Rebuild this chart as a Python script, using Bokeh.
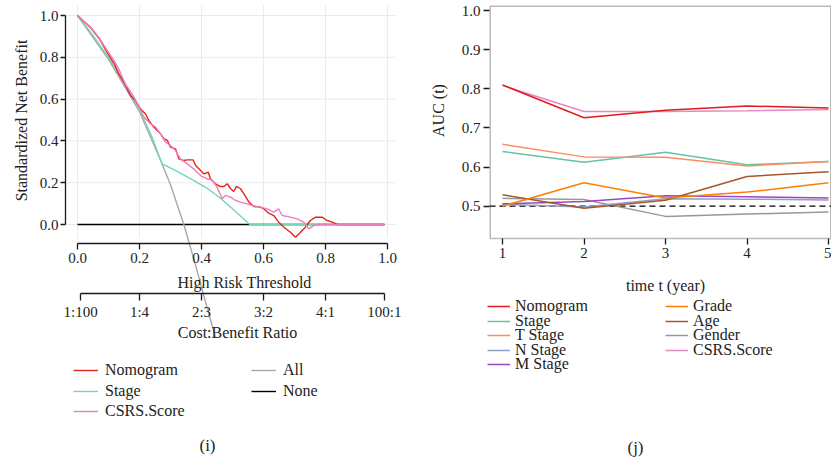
import math
from bokeh.plotting import figure
from bokeh.models import (LinearAxis, FixedTicker, PrintfTickFormatter, Legend,
                          LegendItem, Label, Range1d, BoxAnnotation)
from bokeh.layouts import row
from bokeh.embed import file_html
from bokeh.resources import INLINE

FONT = "'Liberation Serif', 'DejaVu Serif', serif"
TEXT = "#222222"

# ---------------- decision curve (standardized net benefit) ----------------
nomogram_thr = [0.000, 0.041, 0.070, 0.097, 0.120, 0.133, 0.155, 0.171, 0.187, 0.203,
                0.219, 0.230, 0.246, 0.257, 0.268, 0.279, 0.290, 0.300, 0.316, 0.327,
                0.343, 0.354, 0.373, 0.381, 0.397, 0.408, 0.422, 0.429, 0.445, 0.459,
                0.472, 0.483, 0.494, 0.504, 0.513, 0.526, 0.537, 0.553, 0.569, 0.590,
                0.601, 0.617, 0.633, 0.649, 0.666, 0.687, 0.703, 0.714, 0.735, 0.751,
                0.768, 0.789, 0.805, 0.822, 0.838, 0.990]
nomogram_nb = [1.000, 0.944, 0.890, 0.820, 0.765, 0.722, 0.665, 0.617, 0.593, 0.553,
               0.530, 0.498, 0.466, 0.450, 0.434, 0.410, 0.402, 0.370, 0.362, 0.314,
               0.306, 0.309, 0.309, 0.282, 0.258, 0.242, 0.250, 0.218, 0.195, 0.182,
               0.182, 0.195, 0.171, 0.158, 0.182, 0.171, 0.147, 0.107, 0.086, 0.083,
               0.075, 0.054, 0.043, 0.011, -0.013, -0.037, -0.061, -0.045, -0.013, 0.019,
               0.035, 0.035, 0.019, 0.011, 0.000, 0.000]

csrs_thr = [0.000, 0.041, 0.070, 0.097, 0.120, 0.133, 0.155, 0.176, 0.195, 0.214,
            0.235, 0.252, 0.268, 0.284, 0.300, 0.316, 0.332, 0.354, 0.375, 0.397,
            0.418, 0.434, 0.450, 0.467, 0.477, 0.494, 0.510, 0.526, 0.547, 0.563,
            0.590, 0.612, 0.633, 0.649, 0.660, 0.687, 0.708, 0.730, 0.746, 0.762,
            0.778, 0.990]
csrs_nb = [1.000, 0.946, 0.893, 0.830, 0.780, 0.745, 0.670, 0.625, 0.575, 0.514,
           0.482, 0.466, 0.434, 0.394, 0.378, 0.354, 0.314, 0.290, 0.266, 0.234,
           0.218, 0.214, 0.179, 0.123, 0.139, 0.131, 0.115, 0.107, 0.099, 0.091,
           0.083, 0.075, 0.059, 0.075, 0.043, 0.035, 0.027, 0.011, -0.021, -0.005,
           0.000, 0.000]

stage_thr = [0.000, 0.050, 0.100, 0.150, 0.200, 0.240, 0.273, 0.320, 0.370, 0.420,
             0.460, 0.500, 0.530, 0.556, 0.833]
stage_nb = [1.000, 0.905, 0.800, 0.680, 0.550, 0.420, 0.290, 0.255, 0.215, 0.172,
            0.127, 0.075, 0.035, 0.000, 0.000]

all_thr = [0.000, 0.100, 0.200, 0.270, 0.300, 0.343, 0.380, 0.410, 0.445]
all_nb = [1.000, 0.790, 0.540, 0.300, 0.190, 0.000, -0.190, -0.355, -0.540]

none_thr = [0.000, 0.990]
none_nb = [0.000, 0.000]

threshold_ticks = [0.0, 0.2, 0.4, 0.6, 0.8, 1.0]
net_benefit_ticks = [0.0, 0.2, 0.4, 0.6, 0.8, 1.0]
cost_benefit_labels = ["1:100", "1:4", "2:3", "3:2", "4:1", "100:1"]

# ---------------- time-dependent AUC ----------------
years = [1, 2, 3, 4, 5]
auc_series = {
    "Nomogram":   [0.810, 0.726, 0.745, 0.756, 0.751],
    "Stage":      [0.640, 0.612, 0.638, 0.606, 0.614],
    "T Stage":    [0.658, 0.626, 0.625, 0.603, 0.614],
    "N Stage":    [0.505, 0.498, 0.519, 0.518, 0.516],
    "M Stage":    [0.506, 0.512, 0.527, 0.524, 0.521],
    "Grade":      [0.500, 0.560, 0.521, 0.536, 0.560],
    "Age":        [0.529, 0.495, 0.515, 0.576, 0.588],
    "Gender":     [0.520, 0.517, 0.474, 0.480, 0.485],
    "CSRS.Score": [0.808, 0.742, 0.742, 0.744, 0.747],
}
auc_ticks = [0.5, 0.6, 0.7, 0.8, 0.9, 1.0]
auc_reference = 0.5

auc_colors = {
    "Nomogram": "#E41A1C", "Stage": "#66C2A5", "T Stage": "#FC8D62",
    "N Stage": "#8DA0CB", "M Stage": "#A044C4", "Grade": "#FF7F00",
    "Age": "#A65628", "Gender": "#999999", "CSRS.Score": "#E78AC3",
}
auc_draw_order = ["Gender", "N Stage", "M Stage", "Age", "Grade",
                  "Stage", "T Stage", "CSRS.Score", "Nomogram"]


def style_axis(ax):
    ax.major_label_text_font = FONT
    ax.major_label_text_font_size = "15px"
    ax.major_label_text_color = TEXT
    ax.minor_tick_line_color = None
    ax.major_tick_in = 0
    ax.major_tick_line_width = 1.3
    ax.major_tick_line_color = "#1A1A1A"
    ax.axis_line_color = "#1A1A1A"
    ax.axis_line_width = 1.3


def title_text(p, x, y, text, angle=0.0, size="16px"):
    p.add_layout(Label(x=x, y=y, text=text, angle=angle, text_align="center",
                       text_baseline="middle", text_font=FONT, text_font_size=size,
                       text_color=TEXT))


def item_legend(p, renderer, label, vx, vy, glyph_w, standoff):
    lg = Legend(items=[LegendItem(label=label, renderers=[renderer])],
                location=(vx, vy), padding=0, margin=0, spacing=0,
                border_line_alpha=0, background_fill_alpha=0,
                glyph_width=glyph_w, glyph_height=20, label_height=20,
                label_standoff=standoff, label_text_font=FONT,
                label_text_font_size="16px", label_text_color=TEXT)
    p.add_layout(lg)


# Each panel's frame fills its whole canvas; axes sit at fixed data positions
H = 460

# ====================== left panel: decision curves ======================
L_W = 420
X0_PX, X_SCALE = 77, 310.0       # pixel of threshold 0 and pixels per unit
Y0_PX, Y_SCALE = 224, 209.0      # pixel of net benefit 0 and pixels per unit


def lx(px):
    return (px - X0_PX) / X_SCALE


def ly(py):
    return (Y0_PX - py) / Y_SCALE


left = figure(width=L_W, height=H, title=None, output_backend="svg",
              toolbar_location=None, x_axis_type=None, y_axis_type=None,
              x_range=Range1d(lx(0), lx(L_W)), y_range=Range1d(ly(H), ly(0)),
              min_border_left=0, min_border_right=0,
              min_border_top=0, min_border_bottom=0)
left.outline_line_color = None
left.grid.visible = False
left.background_fill_color = "white"
left.border_fill_color = "white"

# light panel grid, limited to the panel area
panel_x = (lx(65), lx(395))
panel_y = (ly(238), ly(5))
left.segment(x0=threshold_ticks, x1=threshold_ticks,
             y0=[panel_y[0]] * len(threshold_ticks), y1=[panel_y[1]] * len(threshold_ticks),
             line_color="#EBEBEB", line_width=1)
left.segment(x0=[panel_x[0]] * len(net_benefit_ticks), x1=[panel_x[1]] * len(net_benefit_ticks),
             y0=net_benefit_ticks, y1=net_benefit_ticks,
             line_color="#EBEBEB", line_width=1)

r_none = left.line(none_thr, none_nb, line_color="black", line_width=1.4)
r_all = left.line(all_thr, all_nb, line_color="#A8A8A8", line_width=1.4)
r_stage = left.line(stage_thr, stage_nb, line_color="#74D6B2", line_width=1.4)
r_nomo = left.line(nomogram_thr, nomogram_nb, line_color="#E0261E", line_width=1.4)
r_csrs = left.line(csrs_thr, csrs_nb, line_color="#F07CC0", line_width=1.4)

ya = LinearAxis(fixed_location=lx(65), bounds=(0, 1),
                ticker=FixedTicker(ticks=net_benefit_ticks),
                formatter=PrintfTickFormatter(format="%.1f"))
style_axis(ya)
ya.major_tick_out = 5
ya.major_label_standoff = 2
left.add_layout(ya, "left")

thr_axis = LinearAxis(fixed_location=ly(243), bounds=(0, 1),
                      ticker=FixedTicker(ticks=threshold_ticks),
                      formatter=PrintfTickFormatter(format="%.1f"))
style_axis(thr_axis)
thr_axis.major_tick_out = 6
thr_axis.major_label_standoff = 3
left.add_layout(thr_axis, "below")

cb_pos = []
for lab in cost_benefit_labels:
    a, b = (float(v) for v in lab.split(":"))
    cb_pos.append(a / (a + b))
cb_axis = LinearAxis(fixed_location=ly(293), bounds=(cb_pos[0], cb_pos[-1]),
                     ticker=FixedTicker(ticks=cb_pos),
                     major_label_overrides={p_: s for p_, s in zip(cb_pos, cost_benefit_labels)})
style_axis(cb_axis)
cb_axis.major_tick_out = 7
cb_axis.major_label_standoff = 3
left.add_layout(cb_axis, "below")

title_text(left, lx(21), ly(120), "Standardized Net Benefit", angle=math.pi / 2)
title_text(left, lx(244), ly(282), "High Risk Threshold")
title_text(left, lx(237), ly(332), "Cost:Benefit Ratio")

# legend, one entry per slot
for rnd, lab, xpx, ypx in [(r_nomo, "Nomogram", 73, 370), (r_stage, "Stage", 73, 391),
                           (r_csrs, "CSRS.Score", 73, 411), (r_all, "All", 251, 370),
                           (r_none, "None", 251, 391)]:
    item_legend(left, rnd, lab, xpx, H - (ypx + 10), 25, 7)

title_text(left, lx(207), ly(445), "(i)", size="17px")

# ====================== right panel: time-dependent AUC ======================
R_W = 411
BOX_L, BOX_T, BOX_B = 69, 5, 238         # box edges within this panel
RX0_PX, RX_SCALE = 82, 81.5              # pixel of year 1, pixels per year
RY0_PX, RY_SCALE = 205.7, 391.4          # pixel of AUC 0.5, pixels per unit


def rx(px):
    return 1 + (px - RX0_PX) / RX_SCALE


def ry(py):
    return 0.5 + (RY0_PX - py) / RY_SCALE


right = figure(width=R_W, height=H, title=None, output_backend="svg",
               toolbar_location=None, x_axis_type=None, y_axis_type=None,
               x_range=Range1d(rx(0), rx(R_W)), y_range=Range1d(ry(H), ry(0)),
               min_border_left=0, min_border_right=0,
               min_border_top=0, min_border_bottom=0)
right.grid.visible = False
right.outline_line_color = None
right.background_fill_color = "white"
right.border_fill_color = "white"

right.add_layout(BoxAnnotation(left=rx(BOX_L + 0.75), right=rx(R_W - 0.75),
                               top=ry(BOX_T + 0.75), bottom=ry(BOX_B),
                               fill_color=None, fill_alpha=0,
                               line_color="#1A1A1A", line_width=1.5))

# chance level reference, across the box
right.segment(x0=[rx(BOX_L)], x1=[rx(R_W)], y0=[auc_reference], y1=[auc_reference],
              line_color="black", line_width=1.3, line_dash="6 4")

auc_renderers = {}
for name in auc_draw_order:
    auc_renderers[name] = right.line(years, auc_series[name], line_color=auc_colors[name],
                                     line_width=1.5)

rxa = LinearAxis(fixed_location=ry(BOX_B), ticker=FixedTicker(ticks=years))
style_axis(rxa)
rxa.axis_line_color = None
rxa.major_tick_out = 6
rxa.major_label_standoff = 3
right.add_layout(rxa, "below")

rya = LinearAxis(fixed_location=rx(BOX_L), ticker=FixedTicker(ticks=auc_ticks),
                 formatter=PrintfTickFormatter(format="%.1f"))
style_axis(rya)
rya.axis_line_color = None
rya.major_tick_out = 6
rya.major_label_standoff = 3
right.add_layout(rya, "left")

title_text(right, rx(438 - 420), ry(110), "AUC (t)", angle=math.pi / 2)
title_text(right, rx(665 - 420), ry(285), "time t (year)")

col1 = ["Nomogram", "Stage", "T Stage", "N Stage", "M Stage"]
col2 = ["Grade", "Age", "Gender", "CSRS.Score"]
rows_px = [306, 321, 335, 350, 364]
for names, xpx in [(col1, 487 - 420), (col2, 665 - 420)]:
    for name, ypx in zip(names, rows_px):
        item_legend(right, auc_renderers[name], name, xpx, H - (ypx + 10), 23, 5)

title_text(right, rx(635 - 420), ry(447), "(j)", size="17px")

layout = row(left, right)
with open("out.html", "w") as f:
    f.write(file_html(layout, INLINE))
